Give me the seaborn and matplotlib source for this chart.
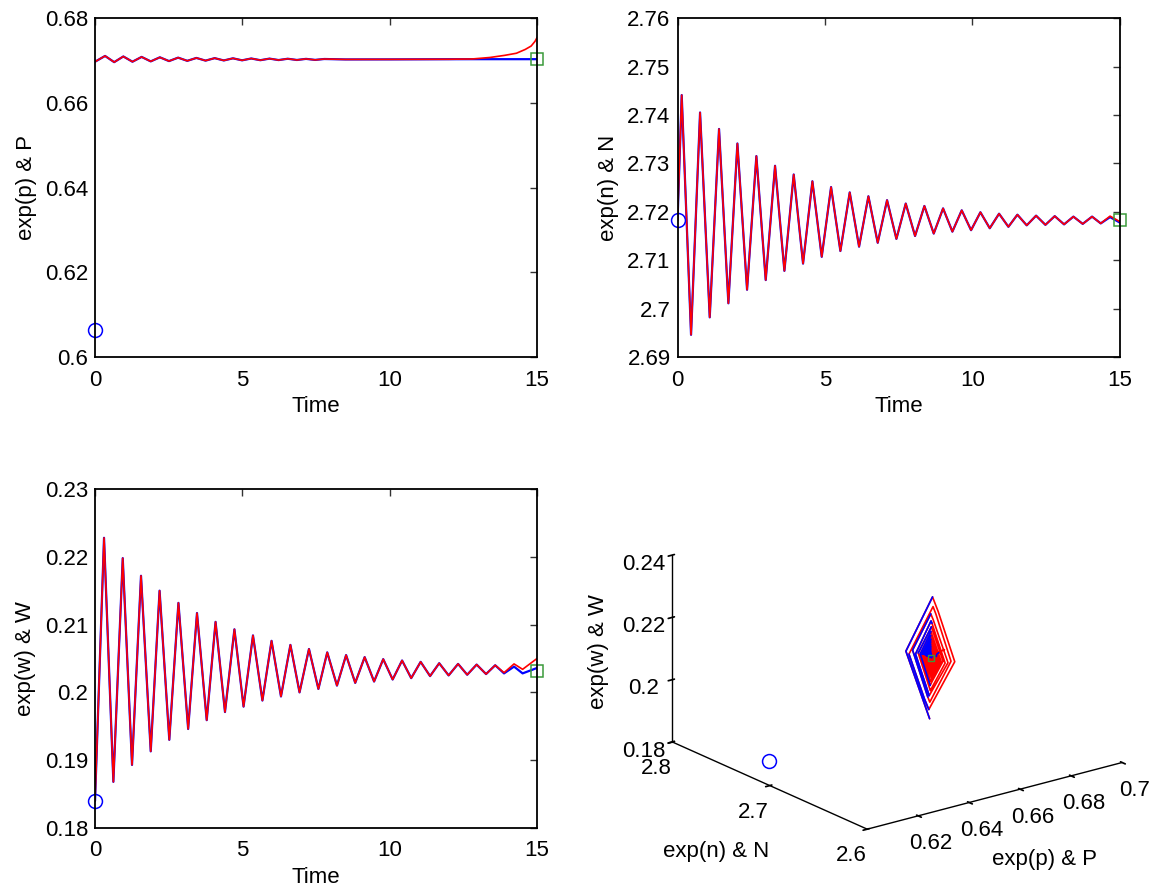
import numpy as np
import pandas as pd
import matplotlib
matplotlib.use('Agg')
import matplotlib.pyplot as plt
from matplotlib.ticker import FuncFormatter
import seaborn as sns

sns.set_theme(style='white')
plt.rcParams['font.family'] = ['Liberation Sans', 'DejaVu Sans']
for k in ('text.color', 'axes.labelcolor', 'xtick.color', 'ytick.color'):
    plt.rcParams[k] = 'black'

# ---- data (extrema of the oscillations) ----
# exp(p) & P
t_p = [0, 0.34, 0.65, 0.96, 1.27, 1.58, 1.89, 2.20, 2.51, 2.82, 3.13, 3.44, 3.75,
       4.06, 4.37, 4.68, 4.99, 5.30, 5.61, 5.92, 6.23, 6.54, 6.85, 7.16, 7.47, 7.78,
       8.5, 10.0, 12.0, 12.8, 13.4, 13.9, 14.3, 14.6, 14.8, 14.93, 15.0]
p_red = [0.6697, 0.67106, 0.66960, 0.67094, 0.66970, 0.67083, 0.66978, 0.67074,
         0.66985, 0.67066, 0.66991, 0.67059, 0.66996, 0.67054, 0.67000, 0.67050,
         0.67003, 0.67046, 0.67006, 0.67043, 0.67009, 0.67040, 0.67011, 0.67037,
         0.67013, 0.67034, 0.67024, 0.67025, 0.67028, 0.67035, 0.67070, 0.67120,
         0.67170, 0.67260, 0.67340, 0.67450, 0.67540]
p_blue = p_red[:28] + [0.67029, 0.67030, 0.67030, 0.67030, 0.67030, 0.67030,
                       0.67030, 0.67030, 0.67030]

# exp(n) & N
t_n = [0, 0.141, 0.458, 0.764, 1.092, 1.408, 1.725, 2.031, 2.359, 2.675, 2.992,
       3.309, 3.626, 3.942, 4.259, 4.576, 4.893, 5.21, 5.526, 5.843, 6.16, 6.477,
       6.793, 7.11, 7.427, 7.744, 8.06, 8.377, 8.694, 9.011, 9.327, 9.644, 9.961,
       10.278, 10.595, 10.911, 11.228, 11.533, 11.85, 12.167, 12.484, 12.8, 13.117,
       13.434, 13.75, 14.067, 14.362, 14.678, 15.0]
n_red = [2.7183, 2.7441, 2.6946, 2.7405, 2.6982, 2.7371, 2.7011, 2.7341, 2.7039,
         2.7315, 2.7059, 2.7295, 2.7078, 2.7277, 2.7093, 2.7263, 2.7107, 2.7251,
         2.7119, 2.7240, 2.7128, 2.7232, 2.7136, 2.7224, 2.7144, 2.7217, 2.7150,
         2.7212, 2.7155, 2.7207, 2.7159, 2.7203, 2.7162, 2.7199, 2.7166, 2.7196,
         2.7169, 2.7194, 2.7172, 2.7192, 2.7173, 2.7191, 2.7174, 2.7190, 2.7175,
         2.7190, 2.7176, 2.7191, 2.7180]
n_blue = n_red[:47] + [2.7189, 2.7178]

# exp(w) & W
t_w = [0, 0.305, 0.622, 0.94, 1.255, 1.56, 1.89, 2.19, 2.52, 2.83, 3.16, 3.46,
       3.79, 4.09, 4.41, 4.73, 5.04, 5.36, 5.68, 5.99, 6.31, 6.63, 6.94, 7.26,
       7.58, 7.88, 8.21, 8.52, 8.83, 9.15, 9.47, 9.78, 10.10, 10.42, 10.73, 11.05,
       11.37, 11.68, 12.0, 12.32, 12.63, 12.95, 13.27, 13.58, 13.88, 14.22, 14.51,
       15.0]
w_red = [0.1840, 0.2228, 0.1868, 0.2198, 0.1893, 0.2172, 0.1913, 0.2150, 0.1930,
         0.2132, 0.1946, 0.2117, 0.1959, 0.2104, 0.1971, 0.2093, 0.1979, 0.2084,
         0.1988, 0.2076, 0.1994, 0.2070, 0.2000, 0.2064, 0.2005, 0.2059, 0.2010,
         0.2055, 0.2014, 0.2052, 0.2016, 0.2049, 0.2019, 0.2047, 0.2021, 0.2045,
         0.2024, 0.2043, 0.2025, 0.2042, 0.2026, 0.2041, 0.2027, 0.2040, 0.2029,
         0.2042, 0.2034, 0.2050]
w_blue = w_red[:44] + [0.2028, 0.2038, 0.2028, 0.2036]

# start (circle) and end (square) markers
start_pnw = (0.6065, 2.7183, 0.1840)
end_pnw = (0.6703, 2.7183, 0.2032)

RED = '#ff0000'
BLUE = '#0000ff'
GREEN = '#3a9a3a'
FS = 16

fig = plt.figure(figsize=(11.69, 8.86), dpi=100)
fmt = FuncFormatter(lambda v, pos: '%g' % round(v, 4))


def panel(rect, t, blue, red, y0, yend, ylim, yticks, ylabel):
    ax = fig.add_axes(rect)
    sns.lineplot(x=t, y=blue, ax=ax, color=BLUE, lw=1.6, sort=False, estimator=None)
    sns.lineplot(x=t, y=red, ax=ax, color=RED, lw=1.2, sort=False, estimator=None)
    ax.plot([0], [y0], 'o', ms=10, mfc='none', mec=BLUE, mew=1.1, clip_on=False)
    ax.plot([15], [yend], 's', ms=9, mfc='none', mec=GREEN, mew=1.1, clip_on=False)
    ax.set_xlim(0, 15)
    ax.set_ylim(*ylim)
    ax.set_xticks([0, 5, 10, 15])
    ax.set_yticks(yticks)
    ax.yaxis.set_major_formatter(fmt)
    ax.set_xlabel('Time', fontsize=FS, labelpad=4)
    ax.set_ylabel(ylabel, fontsize=FS, labelpad=6)
    ax.tick_params(direction='in', top=True, right=True, length=5, width=1,
                   labelsize=FS, color='#333333')
    ax.tick_params(axis='x', pad=9)
    ax.tick_params(axis='y', pad=5)
    for s in ax.spines.values():
        s.set_linewidth(1.3)
        s.set_color('black')
    return ax


panel([0.0813, 0.597, 0.3781, 0.3826], t_p, p_blue, p_red, start_pnw[0],
      end_pnw[0], (0.6, 0.68), [0.6, 0.62, 0.64, 0.66, 0.68], 'exp(p) & P')
panel([0.5796, 0.597, 0.3781, 0.3826], t_n, n_blue, n_red, start_pnw[1],
      end_pnw[1], (2.69, 2.76), np.round(np.arange(2.69, 2.765, 0.01), 2), 'exp(n) & N')
panel([0.0813, 0.0655, 0.3781, 0.3826], t_w, w_blue, w_red, start_pnw[2],
      end_pnw[2], (0.18, 0.23), [0.18, 0.19, 0.2, 0.21, 0.22, 0.23], 'exp(w) & W')

# ---- 3D phase portrait ----
t_all = np.union1d(np.union1d(t_p, t_n), t_w)
P3 = np.interp(t_all, t_p, p_red)
N3 = np.interp(t_all, t_n, n_red)
W3 = np.interp(t_all, t_w, w_red)
N3_blue = np.where(N3 >= end_pnw[1], N3, np.nan)

ax3 = fig.add_axes([0.5127, 0.0151, 0.50, 0.47], projection='3d', proj_type='ortho')
ax3.plot(P3, N3, W3, color=RED, lw=1.2)
ax3.plot(P3, N3_blue, W3, color=BLUE, lw=1.2)
ax3.plot([start_pnw[0]], [start_pnw[1]], [start_pnw[2]], 'o', ms=10, mfc='none',
         mec=BLUE, mew=1.1)
ax3.plot([end_pnw[0]], [end_pnw[1]], [end_pnw[2]], 's', ms=4, mfc='none',
         mec=GREEN, mew=1.0)
ax3.set_xlim(0.6, 0.7)
ax3.set_ylim(2.6, 2.8)
ax3.set_zlim(0.18, 0.24)
ax3.set_xticks([0.62, 0.64, 0.66, 0.68, 0.7])
ax3.set_yticks([2.6, 2.7, 2.8])
ax3.set_zticks([0.18, 0.2, 0.22, 0.24])
for a in (ax3.xaxis, ax3.yaxis, ax3.zaxis):
    a.set_major_formatter(fmt)
    a.set_pane_color((1, 1, 1, 0))
    a.line.set_color('black')
    a.line.set_linewidth(1.0)
ax3.grid(False)
ax3.tick_params(labelsize=FS, pad=2)
ax3.view_init(elev=20, azim=-127.4)
ax3.set_box_aspect((1, 1, 0.62), zoom=1.155)

# axis titles of the 3D panel, placed like the reference (horizontal text)
fig.text(716 / 1169, 1 - 851 / 886, 'exp(n) & N', fontsize=FS, ha='center', va='center')
fig.text(1045 / 1169, 1 - 860 / 886, 'exp(p) & P', fontsize=FS, ha='center', va='center')
fig.text(598 / 1169, 1 - 652 / 886, 'exp(w) & W', fontsize=FS, ha='center', va='center',
         rotation=90)

fig.savefig('out.png', dpi=100)
